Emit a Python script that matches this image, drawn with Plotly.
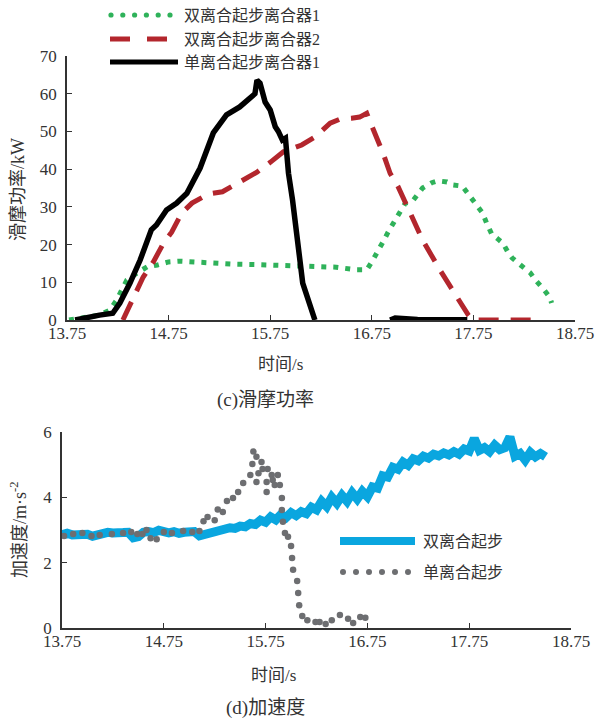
import plotly.graph_objects as go

# ---------------- data: (c) slip power ----------------
green_t = [13.77, 13.85, 13.96, 14.07, 14.17, 14.24, 14.29, 14.34, 14.44, 14.54, 14.64, 14.75, 14.86, 14.98,
           15.09, 15.21, 15.4, 15.6, 15.8, 16.0, 16.2, 16.4, 16.6, 16.7, 16.75, 16.81, 16.86, 16.91, 16.97,
           17.03, 17.08, 17.15, 17.2, 17.25, 17.34, 17.4, 17.49, 17.55, 17.64, 17.69, 17.73, 17.79, 17.84,
           17.88, 17.93, 17.99, 18.04, 18.09, 18.13, 18.19, 18.26, 18.31, 18.36, 18.39, 18.44, 18.5, 18.52]
green_v = [0, 0.4, 0.9, 1.3, 2.6, 5.3, 8.0, 10.6, 12.5, 14.1, 14.6, 15.4, 15.6, 15.4,
           15.1, 14.9, 14.8, 14.7, 14.6, 14.5, 14.2, 14.0, 13.3, 13.3, 15.4, 18.0, 20.7, 23.3, 26.0,
           28.4, 31.0, 31.5, 33.1, 35.0, 36.4, 36.9, 36.6, 35.8, 35.5, 33.7, 32.3, 29.7, 28.4,
           25.7, 22.8, 21.5, 20.4, 18.0, 16.5, 15.1, 13.5, 12.5, 10.6, 9.5, 8.2, 6.1, 4.5]

red_t = [14.3, 14.35, 14.5, 14.6, 14.7, 14.78, 14.88, 14.98, 15.14, 15.28, 15.45, 15.62, 15.75, 15.88,
         16.06, 16.19, 16.34, 16.44, 16.55, 16.63, 16.7, 16.73, 16.8, 16.86, 16.93, 17.01, 17.16, 17.25,
         17.42, 17.52, 17.62, 17.7, 17.74, 18.4]
red_v = [0, 2.7, 11.4, 15.4, 20.4, 23.3, 28.4, 31, 33.4, 34, 36.6, 39.2, 41.8, 44.6,
         46.4, 48.5, 52.2, 53.3, 53.5, 53.8, 54.8, 53, 48.2, 44.3, 38.9, 35.3, 26.5, 21.2,
         13.3, 8.8, 4.5, 1.3, 0, 0]

black_t = [13.83, 13.95, 14.07, 14.2, 14.27, 14.37, 14.47, 14.58, 14.63, 14.73, 14.83, 14.93, 15.06,
           15.19, 15.32, 15.45, 15.58, 15.6, 15.62, 15.65, 15.7, 15.75, 15.8, 15.83, 15.87, 15.9, 15.93,
           15.97, 16.07, 16.14, 16.19, None, 16.93, 16.98, 17.05, 17.2, 17.69]
black_v = [0, 0.8, 1.3, 1.8, 4.5, 9.8, 15.9, 23.9, 25.2, 29.2, 31, 33.6, 40.3,
           49.6, 54.4, 56.5, 59.7, 60, 63.6, 62.8, 57.8, 55.7, 51.2, 50, 47.7, 48.2, 38.9,
           31.8, 9.8, 3.5, 0, None, 0, 0.5, 0.4, 0.15, 0.05]

# ---------------- data: (d) acceleration ----------------
blue_t0, blue_dt = 13.75, 0.05
blue_v = [2.86, 2.90, 2.85, 2.88, 2.86, 2.87, 2.81, 2.86, 2.92, 2.93,
          2.91, 2.95, 2.92, 2.93, 2.76, 2.80, 2.93, 2.95, 2.92, 2.99,
          2.93, 2.91, 2.95, 2.90, 2.93, 2.92, 2.95, 2.82, 2.87, 2.92,
          2.97, 3.01, 3.00, 3.07, 3.05, 3.12, 3.10, 3.20, 3.17, 3.30,
          3.24, 3.40, 3.31, 3.47, 3.38, 3.53, 3.44, 3.56, 3.50, 3.70,
          3.62, 3.88, 3.72, 4.00, 3.82, 4.06, 3.88, 4.14, 3.95, 4.18,
          4.02, 4.32, 4.28, 4.66, 4.62, 4.92, 4.86, 5.08, 4.98, 5.18,
          5.12, 5.26, 5.20, 5.32, 5.27, 5.36, 5.30, 5.40, 5.32, 5.48,
          5.42, 5.80, 5.44, 5.52, 5.40, 5.60, 5.46, 5.52, 5.85, 5.26,
          5.34, 5.14, 5.38, 5.24, 5.34, 5.24]
blue_t = [round(blue_t0 + blue_dt * i, 3) for i in range(len(blue_v))]

grey_t = [13.77, 13.86, 13.95, 14.04, 14.12, 14.24, 14.35, 14.43, 14.49, 14.54, 14.58, 14.62, 14.68,
          14.75, 14.83, 14.94, 15.03, 15.1, 15.14, 15.18, 15.25, 15.28, 15.33, 15.37, 15.43, 15.48,
          15.53, 15.6, 15.62, 15.63, 15.66, 15.66, 15.68, 15.71, 15.72, 15.76, 15.76, 15.77, 15.81,
          15.82, 15.84, 15.87, 15.89, 15.91, 15.91, 15.92, 15.94, 15.97, 16.0, 16.01, 16.02, 16.06,
          16.07, 16.08, 16.11, 16.16, 16.24, 16.28, 16.34, 16.4, 16.48, 16.56, 16.61, 16.68, 16.73]
grey_v = [2.82, 2.88, 2.91, 2.82, 2.85, 2.88, 2.91, 2.94, 2.88, 2.88, 3.0, 2.75, 2.72,
          2.94, 2.91, 2.97, 2.94, 2.97, 3.27, 3.4, 3.3, 3.63, 3.55, 3.89, 3.98, 4.16,
          4.44, 4.68, 5.02, 5.4, 5.24, 4.47, 4.74, 5.08, 4.87, 4.16, 4.47, 4.87, 4.68,
          4.53, 4.38, 4.68, 4.38, 3.98, 3.61, 3.25, 2.91, 2.79, 2.51, 2.14, 1.78, 1.44,
          1.07, 0.7, 0.37, 0.24, 0.18, 0.18, 0.12, 0.24, 0.4, 0.28, 0.15, 0.34, 0.31]

x_ticks = [13.75, 14.75, 15.75, 16.75, 17.75, 18.75]
y1_ticks = [0, 10, 20, 30, 40, 50, 60, 70]
y2_ticks = [0, 2, 4, 6]

legend_top = ["双离合起步离合器1", "双离合起步离合器2", "单离合起步离合器1"]
legend_bot = ["双离合起步", "单离合起步"]

# ---------------- style ----------------
W, H = 599, 721
FONT = "'Liberation Serif', 'Times New Roman', 'Noto Sans CJK SC', serif"
TXT = "#333333"
AX = "#333333"
GREEN = "#2fb25a"
RED = "#b3262d"
BLACK = "#000000"
BLUE = "#0aa6df"
GREY = "#6d6e71"


def px(x):
    return x / W


def py(y):
    return 1 - y / H


fig = go.Figure()
fig.add_trace(go.Scatter(x=green_t, y=green_v, mode="lines", xaxis="x", yaxis="y",
                         line=dict(color=GREEN, width=5, dash="5px,7px"), showlegend=False))
fig.add_trace(go.Scatter(x=red_t, y=red_v, mode="lines", xaxis="x", yaxis="y",
                         line=dict(color=RED, width=5, dash="20px,12px"), showlegend=False))
fig.add_trace(go.Scatter(x=black_t, y=black_v, mode="lines", xaxis="x", yaxis="y",
                         line=dict(color=BLACK, width=5.5), connectgaps=False, showlegend=False))
fig.add_trace(go.Scatter(x=blue_t, y=blue_v, mode="lines", xaxis="x2", yaxis="y2",
                         line=dict(color=BLUE, width=9), showlegend=False))
fig.add_trace(go.Scatter(x=grey_t, y=grey_v, mode="markers", xaxis="x2", yaxis="y2",
                         marker=dict(color=GREY, size=6.5), showlegend=False))

axis_common = dict(showline=True, linecolor=AX, linewidth=1.5, ticks="inside", ticklen=5,
                   tickcolor=AX, tickwidth=1.2, showgrid=False, zeroline=False, automargin=False,
                   tickfont=dict(family=FONT, size=17, color=TXT))

fig.update_layout(
    width=W, height=H, margin=dict(l=0, r=0, t=0, b=0, pad=0, autoexpand=False),
    paper_bgcolor="white", plot_bgcolor="white", showlegend=False,
    xaxis=dict(domain=[px(67), px(575)], range=[13.75, 18.75], tickvals=x_ticks,
               ticktext=[f"{v:.2f}" for v in x_ticks], anchor="y", ticklabelstandoff=-3, **axis_common),
    yaxis=dict(domain=[py(320), py(56)], range=[0, 70], tickvals=y1_ticks, anchor="x",
               ticklabelstandoff=5, **axis_common),
    xaxis2=dict(domain=[px(62), px(571)], range=[13.75, 18.75], tickvals=x_ticks,
                ticktext=[f"{v:.2f}" for v in x_ticks], anchor="y2", ticklabelstandoff=-3, **axis_common),
    yaxis2=dict(domain=[py(628), py(432)], range=[0, 6], tickvals=y2_ticks, anchor="x2",
                ticklabelstandoff=5, **axis_common),
)

shapes = []
annotations = []


def text(x, y, s, size=16, angle=0, xanchor="left"):
    annotations.append(dict(x=px(x), y=py(y), xref="paper", yref="paper", text=s, showarrow=False,
                            xanchor=xanchor, yanchor="middle", textangle=angle,
                            font=dict(family=FONT, size=size, color=TXT)))


# top legend
for i in range(6):
    cx = 111 + i * 11.8
    shapes.append(dict(type="circle", xref="paper", yref="paper", x0=px(cx - 2.6), x1=px(cx + 2.6),
                       y0=py(15 + 2.6), y1=py(15 - 2.6), fillcolor=GREEN, line=dict(width=0)))
shapes.append(dict(type="line", xref="paper", yref="paper", x0=px(110), x1=px(167), y0=py(39), y1=py(39),
                   line=dict(color=RED, width=5, dash="20px,17px")))
shapes.append(dict(type="line", xref="paper", yref="paper", x0=px(110), x1=px(178), y0=py(62), y1=py(62),
                   line=dict(color=BLACK, width=5)))
text(182, 16, legend_top[0])
text(182, 40, legend_top[1])
text(182, 63, legend_top[2])

# bottom legend
shapes.append(dict(type="line", xref="paper", yref="paper", x0=px(340), x1=px(415), y0=py(541), y1=py(541),
                   line=dict(color=BLUE, width=8)))
for i in range(6):
    cx = 343 + i * 13
    shapes.append(dict(type="circle", xref="paper", yref="paper", x0=px(cx - 3), x1=px(cx + 3),
                       y0=py(572 + 3), y1=py(572 - 3), fillcolor=GREY, line=dict(width=0)))
text(421, 541, legend_bot[0])
text(421, 572, legend_bot[1])

# axis titles and captions
text(280, 364, "时间/s", size=17, xanchor="center")
text(265, 400, "(c)滑摩功率", size=19, xanchor="center")
text(18, 190, "滑摩功率/kW", size=18, angle=-90, xanchor="center")
text(273, 675, "时间/s", size=17, xanchor="center")
text(265, 708, "(d)加速度", size=19, xanchor="center")
text(18, 530, "加速度/m·s<sup>-2</sup>", size=18, angle=-90, xanchor="center")

fig.update_layout(shapes=shapes, annotations=annotations)
fig.write_html("out.html")
